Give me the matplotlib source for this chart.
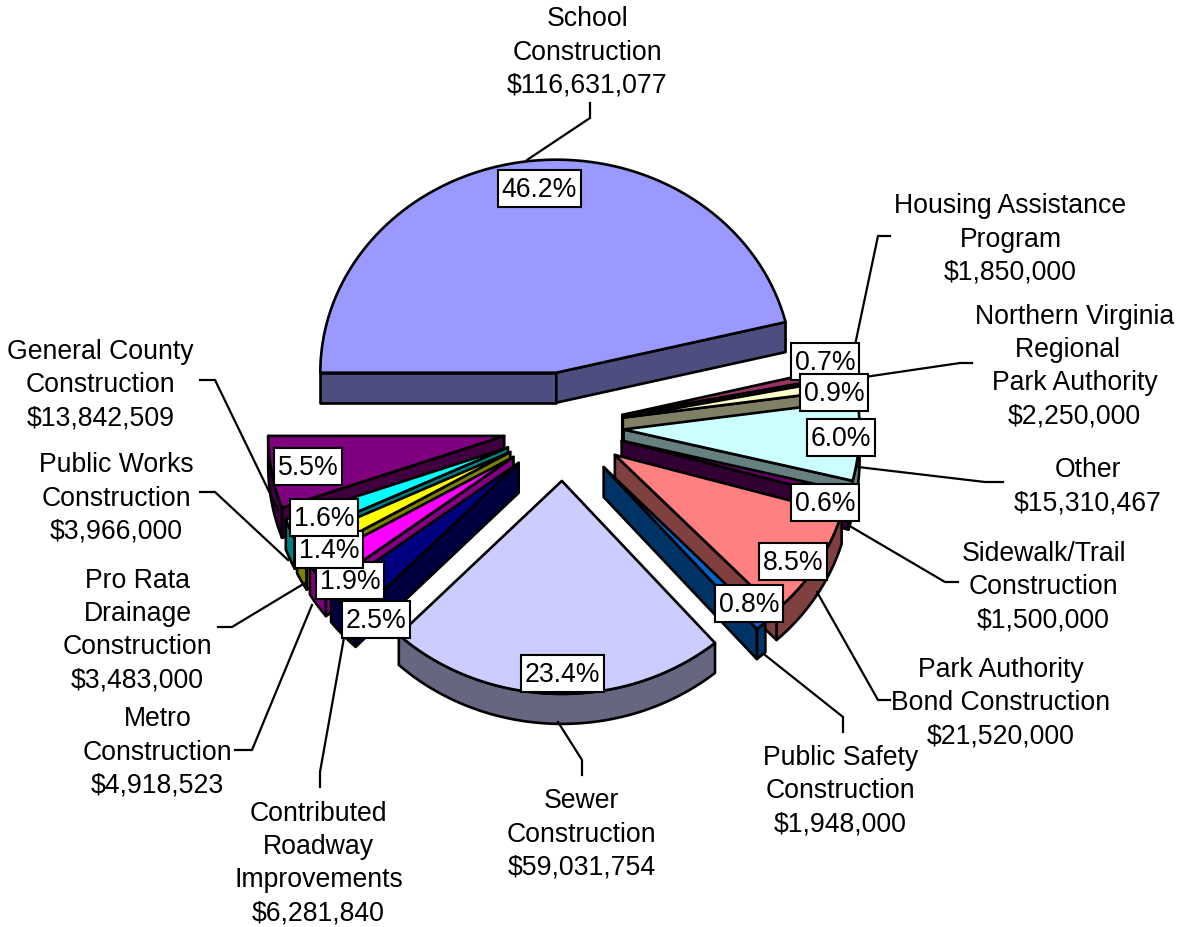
import numpy as np
import matplotlib
matplotlib.use('Agg')
import matplotlib.pyplot as plt
from matplotlib.colors import to_rgb
from matplotlib.patches import Polygon, Rectangle

plt.rcParams['font.family'] = ['Liberation Sans', 'DejaVu Sans']

names = ['School\nConstruction', 'Housing Assistance\nProgram',
         'Northern Virginia\nRegional\u00a0\u00a0\nPark Authority', 'Other',
         'Sidewalk/Trail\nConstruction', 'Park Authority\nBond Construction',
         'Public Safety\nConstruction', 'Sewer\nConstruction',
         'Contributed\nRoadway\nImprovements', 'Metro\nConstruction',
         'Pro Rata\nDrainage\nConstruction', 'Public Works\nConstruction',
         'General County\nConstruction']
amounts = [116631077, 1850000, 2250000, 15310467, 1500000, 21520000, 1948000,
           59031754, 6281840, 4918523, 3483000, 3966000, 13842509]
pct_labels = ['46.2%', '0.7%', '0.9%', '6.0%', '0.6%', '8.5%', '0.8%',
              '23.4%', '2.5%', '1.9%', '1.4%', '1.6%', '5.5%']
colors = ['#9999FF', '#993366', '#FFFFCC', '#CCFFFF', '#660066', '#FF8080',
          '#0066CC', '#CCCCFF', '#000080', '#FF00FF', '#FFFF00', '#00FFFF',
          '#800080']

# layout, all in pixels of the output image
cx, cy = 563.5, 426.6
rx, ry = 236.0, 213.0
explode = 0.255
depth = 30
lw = 1.9

label_xy = [(587.5, 52.5), (1010.5, 239.5), (1074.5, 366.5), (1087.5, 486.5), (1043.5, 587.5),
            (1000.5, 703.5), (840.5, 791.5), (581.5, 834.5), (318.5, 863.5), (157.5, 752.5),
            (137.5, 630.5), (116.5, 498.5), (100.5, 385.5)]
box_xy = [(539.5, 188), (825, 361), (834, 392), (841, 437), (825, 502),
          (793, 561), (749, 603), (562.5, 673.5), (376, 619), (350, 580),
          (329, 549), (324, 517), (308, 466)]
leaders = [[(527, 160), (590, 118), (590, 103)],
           [(855, 345), (878, 236), (890, 236)],
           [(858, 378), (960, 363), (972, 363)],
           [(858, 467), (985, 482), (1003, 482)],
           [(848, 525), (945, 582), (958, 582)],
           [(817, 592), (878, 700), (890, 700)],
           [(765, 655), (843, 717), (843, 732)],
           [(558, 722), (582, 760), (582, 775)],
           [(345, 632), (320, 772), (320, 787)],
           [(312, 605), (252, 750), (235, 750)],
           [(305, 583), (232, 627), (218, 627)],
           [(288, 560), (215, 492), (200, 492)],
           [(278, 510), (215, 380), (200, 380)]]


def rim(ax0, ay0, deg):
    t = np.radians(deg)
    return np.column_stack([ax0 + rx * np.cos(t), ay0 - ry * np.sin(t)])


def wall_colour(c):
    return tuple(0.5 * v for v in to_rgb(c))


def draw_slice(ax, a1, a2, colour):
    mid = np.radians((a1 + a2) / 2)
    ax0 = cx + explode * rx * np.cos(mid)
    ay0 = cy - explode * ry * np.sin(mid)
    apex = np.array([[ax0, ay0]])
    down = np.array([0, depth])
    dark = wall_colour(colour)
    kw = dict(closed=True, edgecolor='black', linewidth=lw, joinstyle='round')

    # outer wall, lower half of the ellipse only
    for k in (0, -360):
        lo, hi = max(a2, -180 + k), min(a1, 0 + k)
        if hi > lo:
            arc = rim(ax0, ay0, np.linspace(hi, lo, 60))
            ax.add_patch(Polygon(np.vstack([arc, arc[::-1] + down]), facecolor=dark, **kw))

    # cut walls that face the viewer
    for ang, seen in ((a1, np.cos(np.radians(a1)) < 0), (a2, np.cos(np.radians(a2)) > 0)):
        if seen:
            p = rim(ax0, ay0, np.array([ang]))
            ax.add_patch(Polygon(np.vstack([apex, p, p + down, apex + down]), facecolor=dark, **kw))

    arc = rim(ax0, ay0, np.linspace(a1, a2, 120))
    ax.add_patch(Polygon(np.vstack([apex, arc]), facecolor=colour, **kw))


fig = plt.figure(figsize=(11.81, 9.27), dpi=100)
ax = fig.add_axes([0, 0, 1, 1])
ax.set_xlim(0, 1181)
ax.set_ylim(927, 0)
ax.axis('off')

amounts_arr = np.array(amounts, dtype=float)
fracs = amounts_arr / amounts_arr.sum()
ends = 180 - 360 * np.cumsum(fracs)
starts = np.concatenate([[180], ends[:-1]])

# back to front: slices further up the picture first
mids = (starts + ends) / 2
order = np.argsort(-np.sin(np.radians(mids)))
for i in order:
    draw_slice(ax, starts[i], ends[i], colors[i])

for pts in leaders:
    xs, ys = zip(*pts)
    ax.plot(xs, ys, color='black', lw=1.6, solid_joinstyle='miter', zorder=5)

for name, amount, (x, y) in zip(names, amounts, label_xy):
    ax.text(x, y, f'{name}\n${amount:,}', ha='center', va='center', fontsize=19.2,
            linespacing=1.355, color='black', zorder=6)

for lab, (x, y) in zip(pct_labels, box_xy):
    w = 83 if len(lab) == 5 else 68
    ax.add_patch(Rectangle((x - w / 2, y - 18.5), w, 37, facecolor='white',
                           edgecolor='black', linewidth=1.5, zorder=7))
    ax.text(x, y + 2, lab, ha='center', va='center', fontsize=19.2, color='black', zorder=8)

fig.savefig('out.png', dpi=100)
